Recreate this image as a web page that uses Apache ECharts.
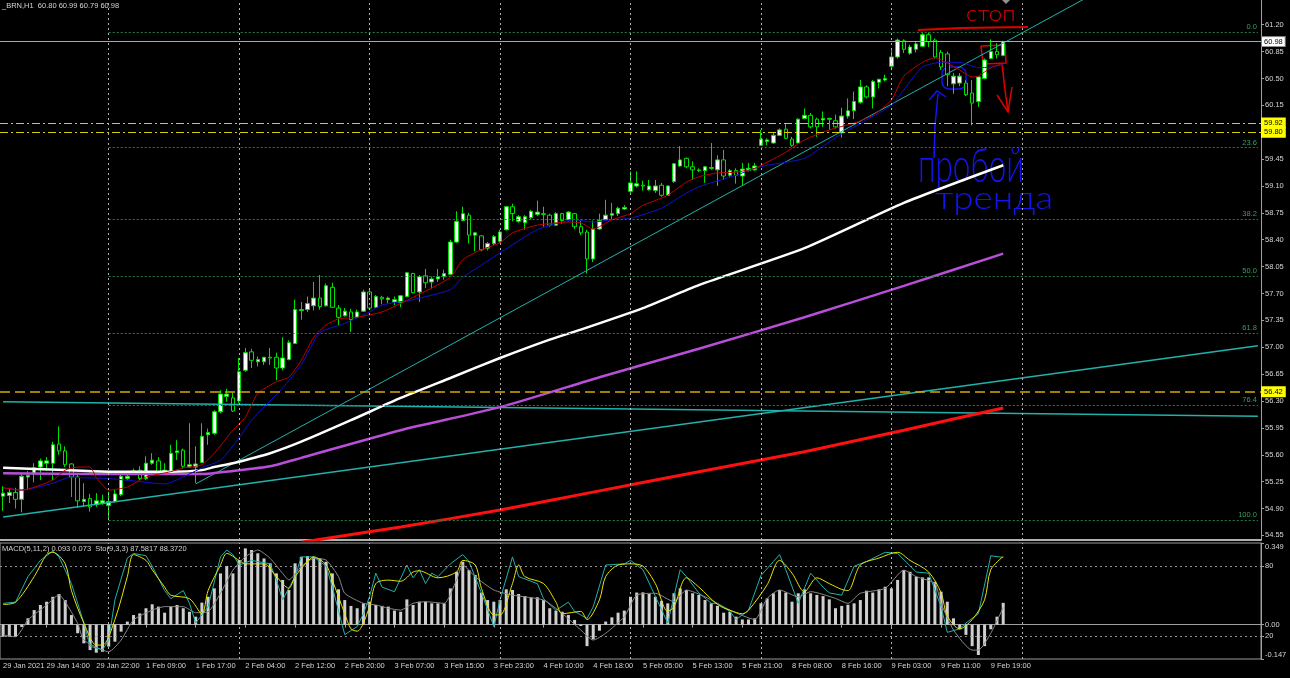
<!DOCTYPE html>
<html><head><meta charset="utf-8">
<script src="https://cdn.jsdelivr.net/npm/echarts@6/dist/echarts.min.js"></script>
<style>html,body{margin:0;padding:0;background:#000;}#c{width:1290px;height:678px;}</style>
</head><body><div id="c"></div>
<script>
// ---------- DATA ----------
const SLOTS = 203; // bar slots incl. empty right shift
const priceTicks = [61.20,60.85,60.50,60.15,59.80,59.45,59.10,58.75,58.40,58.05,57.70,57.35,57.00,56.65,56.30,55.95,55.60,55.25,54.90,54.55];
const timeLabels = [[0,'29 Jan 2021'],[7,'29 Jan 14:00'],[15,'29 Jan 22:00'],[23,'1 Feb 09:00'],[31,'1 Feb 17:00'],[39,'2 Feb 04:00'],[47,'2 Feb 12:00'],[55,'2 Feb 20:00'],[63,'3 Feb 07:00'],[71,'3 Feb 15:00'],[79,'3 Feb 23:00'],[87,'4 Feb 10:00'],[95,'4 Feb 18:00'],[103,'5 Feb 05:00'],[111,'5 Feb 13:00'],[119,'5 Feb 21:00'],[127,'8 Feb 08:00'],[135,'8 Feb 16:00'],[143,'9 Feb 03:00'],[151,'9 Feb 11:00'],[159,'9 Feb 19:00']];
const dayStarts = [17,38,59,80,101,122,143,164];

const opens  = [55.06,55.07,55.11,55.02,55.31,55.35,55.44,55.49,55.49,55.74,55.65,55.48,55.31,54.99,55.03,54.95,54.97,54.94,54.99,55.08,55.29,55.35,55.40,55.29,55.49,55.52,55.36,55.37,55.63,55.66,55.44,55.44,55.50,55.86,55.88,56.16,56.36,56.34,56.30,56.70,56.94,56.81,56.81,56.87,56.87,56.73,56.84,57.05,57.48,57.49,57.54,57.64,57.54,57.78,57.51,57.41,57.46,57.39,57.47,57.72,57.52,57.65,57.62,57.59,57.58,57.66,57.96,57.72,57.93,57.85,57.89,57.92,57.95,58.37,58.65,58.72,58.46,58.45,58.29,58.35,58.38,58.53,58.83,58.64,58.62,58.69,58.73,58.74,58.72,58.59,58.74,58.66,58.74,58.57,58.50,58.15,58.54,58.66,58.72,58.74,58.80,59.03,59.10,59.11,59.05,59.04,59.11,58.98,59.16,59.36,59.46,59.35,59.31,59.30,59.33,59.31,59.44,59.24,59.30,59.23,59.30,59.31,59.63,59.68,59.66,59.76,59.84,59.71,59.66,59.98,60.02,59.97,59.96,59.97,59.95,59.79,60.01,60.08,60.19,60.39,60.26,60.45,60.48,60.66,60.78,60.99,60.83,60.88,60.92,61.07,61.00,60.84,60.82,60.43,60.44,60.44,60.31,60.20,60.50,60.76,60.85,60.80];
const highs  = [55.19,55.17,55.17,55.36,55.39,55.49,55.55,55.57,55.77,55.97,55.71,55.49,55.36,55.23,55.09,55.10,55.08,55.12,55.14,55.34,55.38,55.42,55.45,55.58,55.62,55.57,55.49,55.73,55.79,55.68,56.01,55.71,56.01,55.94,56.18,56.44,56.46,56.41,56.86,56.99,56.98,56.88,56.87,56.99,56.93,57.13,57.09,57.62,57.59,57.66,57.85,57.94,57.83,57.84,57.55,57.51,57.50,57.49,57.75,57.77,57.68,57.67,57.66,57.66,57.68,57.98,57.97,57.94,58.02,57.92,58.02,58.01,58.40,58.77,58.83,58.75,58.50,58.46,58.37,58.46,58.53,58.84,58.87,58.72,58.72,58.79,58.91,58.83,58.74,58.76,58.75,58.77,58.75,58.66,58.53,58.65,58.74,58.92,58.88,58.83,58.85,59.29,59.29,59.17,59.18,59.18,59.14,59.11,59.40,59.62,59.47,59.42,59.33,59.36,59.66,59.50,59.57,59.32,59.33,59.40,59.40,59.40,59.83,59.72,59.79,59.85,59.92,59.74,59.98,60.11,60.05,59.99,60.07,59.99,60.03,60.12,60.24,60.33,60.48,60.41,60.48,60.49,60.55,60.87,61.02,61.01,60.94,60.98,61.10,61.10,61.02,60.87,60.85,60.57,60.57,60.48,60.48,60.53,60.76,61.01,60.96,60.99];
const lows   = [54.87,54.97,54.90,54.85,55.14,55.24,55.27,55.39,55.27,55.60,55.44,55.05,54.91,54.92,54.86,54.92,54.95,54.75,54.98,55.06,55.27,55.34,55.27,55.27,55.47,55.34,55.34,55.36,55.53,55.42,55.43,55.23,55.49,55.73,55.86,56.14,56.29,56.16,56.27,56.68,56.73,56.75,56.77,56.77,56.57,56.70,56.83,57.04,57.36,57.46,57.48,57.49,57.53,57.51,57.28,57.40,57.20,57.38,57.46,57.49,57.51,57.56,57.57,57.55,57.52,57.65,57.70,57.59,57.77,57.77,57.85,57.88,57.94,58.36,58.64,58.35,58.25,58.25,58.26,58.33,58.36,58.52,58.64,58.62,58.53,58.66,58.71,58.57,58.57,58.58,58.61,58.64,58.54,58.46,57.96,58.11,58.53,58.65,58.66,58.71,58.79,59.01,59.08,59.04,59.04,59.01,58.96,58.97,59.14,59.35,59.33,59.18,59.28,59.14,59.31,59.10,59.18,59.22,59.13,59.10,59.29,59.30,59.62,59.63,59.65,59.75,59.71,59.61,59.66,59.97,59.85,59.74,59.87,59.83,59.85,59.73,59.98,59.97,60.17,60.24,60.11,60.37,60.46,60.61,60.76,60.83,60.81,60.84,60.91,60.91,60.76,60.61,60.40,60.30,60.40,60.27,59.89,60.13,60.49,60.75,60.76,60.79];
const closes = [55.10,55.11,55.02,55.32,55.33,55.43,55.52,55.52,55.73,55.65,55.47,55.31,55.00,55.02,54.92,55.00,55.00,54.99,55.09,55.32,55.32,55.39,55.29,55.49,55.53,55.37,55.40,55.62,55.65,55.45,55.47,55.48,55.84,55.89,56.16,56.39,56.39,56.17,56.68,56.93,56.83,56.84,56.87,56.86,56.73,56.86,57.06,57.49,57.49,57.57,57.64,57.53,57.80,57.52,57.39,57.47,57.36,57.46,57.72,57.51,57.66,57.63,57.64,57.62,57.67,57.97,57.71,57.92,57.84,57.89,57.92,57.96,58.37,58.64,58.74,58.46,58.49,58.27,58.35,58.44,58.50,58.83,58.74,58.70,58.70,58.77,58.76,58.73,58.59,58.74,58.65,58.76,58.57,58.49,58.15,58.54,58.65,58.72,58.74,58.81,58.82,59.14,59.13,59.10,59.10,59.10,58.98,59.10,59.39,59.44,59.35,59.31,59.30,59.35,59.34,59.44,59.23,59.30,59.24,59.32,59.33,59.36,59.71,59.70,59.76,59.83,59.72,59.63,59.97,60.02,59.87,59.87,59.98,59.98,59.87,60.01,60.08,60.20,60.39,60.26,60.46,60.49,60.50,60.78,61.00,60.88,60.91,60.95,61.07,60.98,60.78,60.65,60.55,60.53,60.53,60.29,60.18,60.52,60.74,60.85,60.81,60.98];

// moving averages: [bar index, price]
const maFastRed  = [[0,55.17],[3,55.14],[8,55.27],[10,55.40],[12,55.44],[14,55.44],[15,55.30],[17,55.14],[20,55.18],[23,55.31],[27,55.38],[29,55.43],[32,55.47],[34,55.62],[37,55.92],[39,56.09],[41,56.40],[44,56.55],[46,56.61],[48,56.83],[50,57.13],[52,57.29],[54,57.37],[57,57.39],[61,57.46],[66,57.65],[72,57.91],[74,58.14],[77,58.27],[80,58.36],[82,58.49],[86,58.59],[91,58.63],[93,58.62],[95,58.54],[96,58.57],[98,58.66],[101,58.74],[103,58.85],[104,58.88],[107,58.98],[110,59.15],[112,59.22],[115,59.27],[118,59.28],[121,59.33],[123,59.41],[126,59.54],[129,59.70],[133,59.83],[137,59.92],[140,60.02],[143,60.22],[145,60.53],[148,60.71],[150,60.77],[152,60.70],[154,60.61],[156,60.52],[157,60.53],[159,60.64],[161,60.70]];
const maFastBlue = [[0,55.17],[3,55.14],[8,55.23],[11,55.31],[13,55.30],[17,55.29],[21,55.26],[26,55.22],[29,55.31],[32,55.43],[35,55.53],[38,55.82],[40,56.05],[45,56.47],[48,56.77],[51,57.19],[55,57.31],[59,57.46],[61,57.55],[66,57.62],[72,57.75],[74,57.91],[77,58.07],[80,58.23],[86,58.53],[92,58.66],[95,58.63],[98,58.66],[101,58.68],[106,58.81],[109,58.96],[112,59.09],[118,59.24],[121,59.33],[123,59.37],[129,59.46],[134,59.73],[139,59.96],[143,60.15],[145,60.35],[148,60.65],[151,60.71],[154,60.71],[157,60.64],[159,60.65],[161,60.68]];
const maWhite  = [[0,55.43],[10,55.40],[17,55.38],[27,55.38],[32,55.40],[34,55.44],[37,55.49],[43,55.62],[48,55.77],[56,56.05],[64,56.34],[72,56.60],[80,56.86],[88,57.10],[93,57.23],[103,57.51],[112,57.81],[129,58.29],[145,58.88],[161,59.37]];
const maPurple = [[0,55.36],[16,55.35],[32,55.35],[37,55.39],[43,55.45],[48,55.56],[64,55.92],[80,56.22],[96,56.61],[112,56.98],[129,57.39],[145,57.80],[161,58.22]];
const maRed    = [[48,54.46],[64,54.66],[80,54.88],[96,55.13],[112,55.38],[129,55.64],[145,55.92],[161,56.21]];

// trend lines [bar index, price]
const trendSteep = [[31,55.22],[202,62.77]];
const trendLow   = [[0,54.79],[202,57.02]];
const trendFlat  = [[0,56.29],[202,56.10]];

// horizontal price levels
const levelBid = 60.98;
const levelsYellow = [59.92, 59.80];
const levelOrange = 56.42;
const fibLevels = [['0.0',61.10],['23.6',59.60],['38.2',58.67],['50.0',57.925],['61.8',57.18],['76.4',56.25],['100.0',54.75]];
const fibStart = 17;

// MACD + Stochastic
const macdHist = [-0.052,-0.052,-0.052,-0.010,0.027,0.062,0.084,0.098,0.119,0.131,0.105,0.041,-0.037,-0.080,-0.109,-0.120,-0.116,-0.094,-0.073,-0.030,0.013,0.041,0.048,0.070,0.087,0.077,0.051,0.077,0.084,0.070,0.055,0.034,0.094,0.119,0.155,0.219,0.251,0.219,0.276,0.326,0.319,0.305,0.283,0.262,0.219,0.191,0.148,0.262,0.290,0.293,0.290,0.283,0.269,0.219,0.151,0.105,0.080,0.070,0.091,0.098,0.084,0.080,0.077,0.060,0.055,0.108,0.084,0.098,
 0.098,0.091,0.091,0.091,0.155,0.226,0.269,0.233,0.212,0.137,0.105,0.098,0.105,0.151,0.148,0.131,0.122,0.117,0.117,0.105,0.070,0.060,0.055,0.041,0.020,-0.006,-0.092,-0.063,-0.026,0.013,0.031,0.051,0.060,0.119,0.137,0.138,0.131,0.119,0.102,0.091,0.134,0.155,0.148,0.134,0.127,0.105,0.091,0.080,0.051,0.055,0.034,0.022,0.022,0.027,0.091,0.112,0.134,0.148,0.137,0.098,0.134,0.151,0.134,0.127,0.122,0.108,0.070,0.080,
 0.085,0.091,0.105,0.145,0.137,0.151,0.162,0.155,0.191,0.233,0.226,0.205,0.202,0.202,0.183,0.141,0.098,0.027,-0.020,-0.044,-0.092,-0.130,-0.092,-0.020,0.034,0.093];
const macdSignal = [[0,-0.044],[2,-0.052],[4,0.020],[7,0.084],[9,0.127],[10,0.098],[12,0.005],[13,-0.066],[16,-0.109],[17,-0.116],[19,-0.066],[21,0.020],[24,0.062],[26,0.077],[29,0.077],[31,0.051],[33,0.055],[35,0.134],[37,0.233],[39,0.290],[41,0.319],[43,0.283],[45,0.219],[46,0.191],[48,0.248],[50,0.283],[52,0.276],[54,0.205],[55,0.134],[58,0.091],[60,0.084],[62,0.070],[64,0.062],[66,0.091],[68,0.098],[71,0.091],[73,0.191],[74,0.255],[76,0.205],[79,0.148],[82,0.126],[87,0.105],[90,0.048],[93,-0.023],[95,-0.066],[97,-0.037],[100,0.034],[102,0.126],[105,0.134],[108,0.098],[110,0.148],[113,0.119],[117,0.062],[121,0.022],[123,0.112],[125,0.148],[128,0.119],[130,0.141],[134,0.112],[136,0.091],[138,0.134],[142,0.155],[145,0.233],[147,0.205],[150,0.176],[151,0.091],[153,-0.023],[156,-0.109],[157,-0.109],[159,-0.037],[161,0.073]];
const stochMain = [[0,48],[2,49],[4,71],[6,85],[8,93],[9,88],[11,65],[13,31],[14,11],[16,8],[17,16],[18,51],[20,87],[21,91],[23,89],[24,80],[26,59],[27,52],[29,59],[30,48],[31,31],[33,45],[35,88],[36,94],[37,90],[38,81],[40,85],[43,82],[44,68],[45,51],[47,71],[48,88],[50,88],[52,80],[53,62],[55,21],[57,28],[58,39],[59,54],[60,74],[61,62],[63,58],[65,81],[66,70],[67,77],[68,65],[69,74],[70,71],[72,82],[74,90],[75,84],[77,57],[79,28],[80,51],[82,88],[83,71],[86,65],[87,52],[89,42],[91,49],[92,41],[94,35],[95,45],[97,81],[100,82],[101,85],[103,77],[105,54],[107,31],[109,77],[110,71],[112,57],[114,48],[115,48],[117,41],[118,34],[120,42],[122,72],[124,84],[125,90],[126,77],[128,48],[130,74],[132,62],[133,57],[135,55],[137,80],[139,84],[142,92],[144,91],[147,75],[149,74],[151,45],[152,23],[154,26],[155,31],[157,39],[159,89],[161,87.58]];
const stochSignal = [[0,47],[2,49],[5,71],[7,90],[8,92],[10,82],[11,59],[13,31],[15,12],[16,12],[18,34],[20,71],[21,90],[23,85],[24,77],[26,62],[27,55],[30,52],[32,39],[33,59],[35,81],[36,91],[38,85],[39,82],[42,82],[44,71],[46,61],[47,71],[49,84],[50,88],[52,81],[53,68],[55,39],[56,26],[57,24],[59,45],[60,65],[62,68],[64,67],[66,75],[67,76],[70,70],[73,75],[74,85],[76,81],[77,61],[79,38],[80,38],[82,65],[83,81],[84,71],[87,65],[89,49],[90,39],[93,41],[94,34],[96,51],[97,71],[99,81],[101,82],[103,80],[105,65],[107,41],[108,45],[110,70],[112,62],[115,47],[117,42],[119,39],[120,42],[123,64],[125,85],[127,74],[129,58],[131,70],[133,65],[135,60],[136,59],[138,81],[141,87],[144,92],[146,85],[149,75],[151,57],[152,37],[154,26],[156,34],[158,51],[159,77],[161,88.37]];
const stochLevels = [80, 20];
const macdTicks = [0.349, 0, -0.147];

// ---------- CHART ----------
const FONT = 'Liberation Sans';
const HAND = 'Lato, "Open Sans", "DejaVu Sans", sans-serif';
const TXT = '#d4d4d4';
const AXIS = '#a0a0a0';
const GRIDC = '#c4c4c4';
const CYAN = '#20b2aa';
const RED_INK = '#e00000';
const BLUE_INK = '#1414f0';
const cats = Array.from({length: SLOTS}, (_, i) => String(i));
const labelMap = {};
timeLabels.forEach(([i, t]) => { labelMap[i] = t; });
const candles = opens.map((o, i) => [o, closes[i], lows[i], highs[i]]);

const priceBox = (v, bg) => ({
  yAxis: v,
  label: {show: true, position: 'end', distance: 1, formatter: v.toFixed(2), backgroundColor: bg, color: '#000',
          padding: [1, 2, 0, 2], fontSize: 7.5, fontFamily: FONT, borderColor: bg === '#ffffff' ? '#808080' : bg, borderWidth: 1}
});

const chart = echarts.init(document.getElementById('c'));
chart.setOption({
  backgroundColor: '#000000',
  animation: false,
  grid: [
    {left: 0, top: 0, width: 1261, height: 540, show: false},
    {left: 0, top: 543, width: 1261, height: 116, show: true, borderColor: '#9a9a9a', borderWidth: 1, backgroundColor: 'transparent'}
  ],
  xAxis: [
    {type: 'category', gridIndex: 0, data: cats, boundaryGap: true,
     axisLine: {show: true, lineStyle: {color: '#b0b0b0', width: 2}}, axisTick: {show: false}, axisLabel: {show: false}, splitLine: {show: false}},
    {type: 'category', gridIndex: 1, data: cats, boundaryGap: true,
     axisLine: {show: true, lineStyle: {color: AXIS}},
     axisTick: {show: true, alignWithLabel: true, length: 3, interval: (i) => labelMap[i] !== undefined, lineStyle: {color: AXIS}},
     axisLabel: {show: true, interval: (i) => labelMap[i] !== undefined, formatter: (v, i) => labelMap[i] || '',
                 align: 'left', color: TXT, fontSize: 7.5, fontFamily: FONT, margin: 3},
     splitLine: {show: false}}
  ],
  yAxis: [
    {type: 'value', gridIndex: 0, position: 'right', min: 54.49, max: 61.522, scale: true,
     axisLine: {show: true, lineStyle: {color: AXIS}},
     axisTick: {show: true, length: 3, customValues: priceTicks, lineStyle: {color: AXIS}},
     axisLabel: {customValues: priceTicks, formatter: v => v.toFixed(2), color: TXT, fontSize: 7.5, fontFamily: FONT, margin: 4},
     splitLine: {show: false}},
    {type: 'value', gridIndex: 1, position: 'right', min: -0.147, max: 0.349,
     axisLine: {show: true, lineStyle: {color: AXIS}},
     axisTick: {show: true, length: 3, customValues: macdTicks, lineStyle: {color: AXIS}},
     axisLabel: {customValues: macdTicks, color: TXT, fontSize: 7.5, fontFamily: FONT, margin: 4,
                 formatter: v => v === 0 ? '0.00' : (v > 0 ? '{t|' + v.toFixed(3) + '}' : '{b|' + v.toFixed(3) + '}'),
                 rich: {t: {padding: [8, 0, 0, 0], color: TXT, fontSize: 7.5, fontFamily: FONT}, b: {padding: [0, 0, 8, 0], color: TXT, fontSize: 7.5, fontFamily: FONT}}},
     splitLine: {show: false}},
    {type: 'value', gridIndex: 1, position: 'right', min: 0, max: 100,
     axisLine: {show: false},
     axisTick: {show: true, length: 3, customValues: stochLevels, lineStyle: {color: AXIS}},
     axisLabel: {customValues: stochLevels, color: TXT, fontSize: 7.5, fontFamily: FONT, margin: 4},
     splitLine: {show: false}}
  ],
  series: [
    // vertical day grid (main)
    {type: 'line', xAxisIndex: 0, yAxisIndex: 0, data: [], z: 0, silent: true,
     markLine: {silent: true, symbol: 'none', animation: false, label: {show: false},
                lineStyle: {color: GRIDC, type: [2, 3], width: 1, opacity: 0.9},
                data: dayStarts.map(d => ({xAxis: d}))}},
    // fibonacci levels
    {type: 'line', xAxisIndex: 0, yAxisIndex: 0, data: [], z: 1, silent: true,
     markLine: {silent: true, symbol: 'none', animation: false,
                lineStyle: {color: '#24804a', type: [2, 2], width: 1},
                data: fibLevels.map(([t, p]) => [
                  {coord: [fibStart, p], label: {show: true, position: 'insideEndTop', formatter: t, color: '#3a9e5e', fontSize: 7.5, fontFamily: FONT, distance: 1}},
                  {coord: [SLOTS - 1, p]}
                ])}},
    // candles
    {type: 'candlestick', xAxisIndex: 0, yAxisIndex: 0, data: candles, barWidth: 4, z: 2,
     itemStyle: {color: '#ffffff', color0: '#000000', borderColor: '#00e000', borderColor0: '#00e000', borderColorDoji: '#00e000', borderWidth: 1}},
    // trend lines
    {type: 'line', xAxisIndex: 0, yAxisIndex: 0, data: trendSteep, z: 3, showSymbol: false, clip: true, lineStyle: {color: CYAN, width: 1}},
    {type: 'line', xAxisIndex: 0, yAxisIndex: 0, data: trendLow, z: 3, showSymbol: false, clip: true, lineStyle: {color: CYAN, width: 1.5}},
    {type: 'line', xAxisIndex: 0, yAxisIndex: 0, data: trendFlat, z: 3, showSymbol: false, clip: true, lineStyle: {color: CYAN, width: 1.5}},
    // moving averages
    {type: 'line', xAxisIndex: 0, yAxisIndex: 0, data: maRed, z: 4, showSymbol: false, clip: true, smooth: 0.2, lineStyle: {color: '#ff1010', width: 3}},
    {type: 'line', xAxisIndex: 0, yAxisIndex: 0, data: maPurple, z: 4, showSymbol: false, clip: true, smooth: 0.2, lineStyle: {color: '#b84fd8', width: 2.5}},
    {type: 'line', xAxisIndex: 0, yAxisIndex: 0, data: maWhite, z: 4, showSymbol: false, clip: true, smooth: 0.2, lineStyle: {color: '#ffffff', width: 2.5}},
    {type: 'line', xAxisIndex: 0, yAxisIndex: 0, data: maFastBlue, z: 4, showSymbol: false, clip: true, smooth: 0.2, lineStyle: {color: '#1010d8', width: 1}},
    {type: 'line', xAxisIndex: 0, yAxisIndex: 0, data: maFastRed, z: 4, showSymbol: false, clip: true, smooth: 0.2, lineStyle: {color: '#c00000', width: 1}},
    // horizontal price lines + boxes
    {type: 'line', xAxisIndex: 0, yAxisIndex: 0, data: [], z: 5, silent: true,
     markLine: {silent: true, symbol: 'none', animation: false,
                data: [
                  Object.assign(priceBox(levelBid, '#ffffff'), {lineStyle: {color: '#a8a8a8', type: 'solid', width: 1}}),
                  ...levelsYellow.map(v => Object.assign(priceBox(v, '#ffff00'), {lineStyle: {color: '#d8d000', type: [8, 3, 2, 3], width: 1.2}})),
                  Object.assign(priceBox(levelOrange, '#ffff00'), {lineStyle: {color: '#d8a800', type: [10, 5], width: 1.5}})
                ]}},
    // MACD panel grid
    {type: 'line', xAxisIndex: 1, yAxisIndex: 2, data: [], z: 0, silent: true,
     markLine: {silent: true, symbol: 'none', animation: false, label: {show: false},
                lineStyle: {color: GRIDC, type: [2, 3], width: 1, opacity: 0.9},
                data: [...dayStarts.map(d => ({xAxis: d})), ...stochLevels.map(v => ({yAxis: v, lineStyle: {color: '#a0a0a0', type: [2, 3]}}))]}},
    {type: 'bar', xAxisIndex: 1, yAxisIndex: 1, data: macdHist, barWidth: 3, z: 2, itemStyle: {color: '#cfcfcf'}},
    {type: 'line', xAxisIndex: 1, yAxisIndex: 1, data: macdSignal, z: 3, showSymbol: false, smooth: 0.2, lineStyle: {color: '#8a8a8a', width: 1}},
    {type: 'line', xAxisIndex: 1, yAxisIndex: 2, data: stochMain, z: 4, showSymbol: false, lineStyle: {color: CYAN, width: 1}},
    {type: 'line', xAxisIndex: 1, yAxisIndex: 2, data: stochSignal, z: 4, showSymbol: false, smooth: 0.3, lineStyle: {color: '#e6e600', width: 1}}
  ],
  graphic: [
    {type: 'text', x: 2, y: 6, silent: true, style: {text: '_BRN,H1  60.80 60.99 60.79 60.98', fill: TXT, fontSize: 7.5, fontFamily: FONT, verticalAlign: 'middle'}},
    {type: 'text', x: 2, y: 549, silent: true, style: {text: 'MACD(5,11,2) 0.093 0.073  Sto(9,3,3) 87.5817 88.3720', fill: TXT, fontSize: 7.5, fontFamily: FONT, verticalAlign: 'middle'}},
    {type: 'polygon', silent: true, shape: {points: [[1002, 0], [1010, 0], [1006, 4]]}, style: {fill: '#909090'}},
    // red annotation
    {type: 'text', x: 966, y: 25, scaleX: 1.15, silent: true, style: {text: 'стоп', fill: RED_INK, fontSize: 21, fontWeight: 300, fontFamily: HAND, verticalAlign: 'bottom'}},
    {type: 'polyline', silent: true, shape: {points: [[918, 30], [960, 28], [1028, 27]]}, style: {stroke: RED_INK, lineWidth: 2, fill: null}},
    {type: 'polyline', silent: true, shape: {points: [[981, 46], [1005, 45], [1006, 63], [983, 64], [981, 46]]}, style: {stroke: RED_INK, lineWidth: 1.5, fill: null}},
    {type: 'polyline', silent: true, shape: {points: [[1002, 64], [1005, 90], [1008, 112]]}, style: {stroke: RED_INK, lineWidth: 1.5, fill: null}},
    {type: 'polyline', silent: true, shape: {points: [[997, 95], [1008, 112], [1012, 87]]}, style: {stroke: RED_INK, lineWidth: 1.5, fill: null}},
    // blue annotation
    {type: 'rect', silent: true, shape: {x: 942, y: 67, width: 24, height: 22, r: 7}, style: {stroke: BLUE_INK, lineWidth: 1.5, fill: null}},
    {type: 'polyline', silent: true, shape: {points: [[934, 158], [935, 125], [938, 94]]}, style: {stroke: BLUE_INK, lineWidth: 1.5, fill: null}},
    {type: 'polyline', silent: true, shape: {points: [[929, 100], [937, 91], [946, 97]]}, style: {stroke: BLUE_INK, lineWidth: 1.5, fill: null}},
    {type: 'text', x: 918, y: 190, scaleY: 1.55, scaleX: 1.05, silent: true, style: {text: 'пробой', fill: BLUE_INK, fontSize: 30, fontWeight: 300, fontFamily: HAND, verticalAlign: 'bottom'}},
    {type: 'text', x: 935, y: 215, scaleX: 1.15, silent: true, style: {text: 'тренда', fill: BLUE_INK, fontSize: 32, fontWeight: 300, fontFamily: HAND, verticalAlign: 'bottom'}}
  ]
});
</script>
</body></html>
